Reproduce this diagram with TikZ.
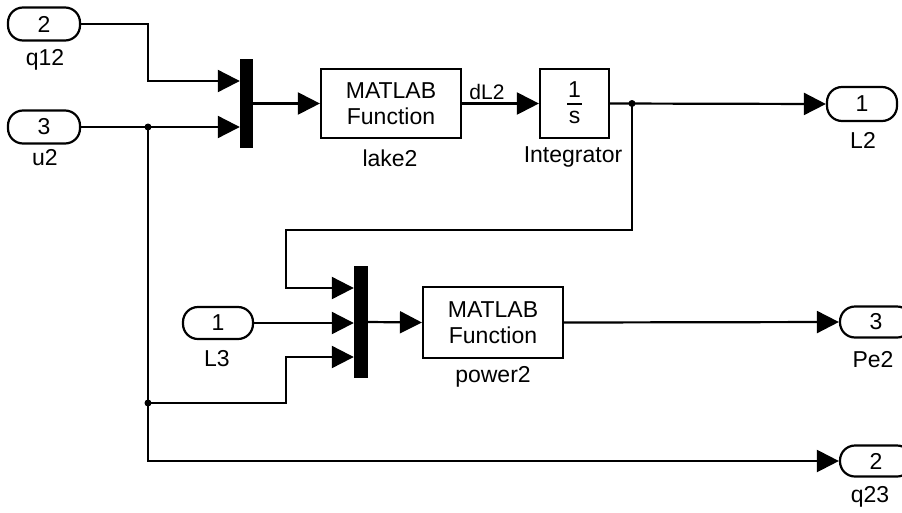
\documentclass[tikz,border=0pt]{standalone}
\usepackage{fontspec}
\setmainfont{Liberation Sans}
\usetikzlibrary{arrows.meta}
\begin{document}
\begin{tikzpicture}[x=1pt,y=-1pt,
  wire/.style={line width=2.2pt},
  arr/.style={wire,-{Triangle[length=22pt,width=22pt]}},
  port/.style={draw,line width=2.2pt,rounded corners=15pt,minimum width=72pt,minimum height=33pt,inner sep=0pt,font=\fontsize{23}{25}\selectfont},
  blockbox/.style={draw,line width=2.2pt,inner sep=0pt,align=center,font=\fontsize{23}{26}\selectfont},
  muxbar/.style={fill=black,draw=none,inner sep=0pt},
  lbl/.style={font=\fontsize{23}{25}\selectfont,inner sep=0pt},
  junction/.style={circle,fill=black,inner sep=0pt,minimum size=7pt}]
\clip (0,0) rectangle (902,512);
\fill[white] (0,0) rectangle (902,512);
% inports
\node[port] (p2) at (44,24) {2};
\node[lbl] (p2l) at (45,60) {q12};
\node[port] (p3) at (44,127) {3};
\node[lbl] (p3l) at (45,158) {u2};
\node[port,minimum width=70pt,minimum height=32pt] (l3) at (218,323) {1};
\node[lbl] (l3l) at (217,359) {L3};
% mux bars
\node[muxbar,minimum width=13pt,minimum height=89pt] (mux1) at (246.5,103.5) {};
\node[muxbar,minimum width=14pt,minimum height=112pt] (mux2) at (361,322) {};
% blocks
\node[blockbox,minimum width=140pt,minimum height=69pt] (lake) at (391,103.5) {MATLAB\\Function};
\node[lbl] (lakel) at (390,158) {lake2};
\node[blockbox,minimum width=69pt,minimum height=69pt] (integ) at (574.5,103.5) {};
\node[lbl] (one) at (574.5,90) {1};
\draw[line width=1.6pt] (567,104) -- (582,104);
\node[lbl] (ess) at (574.5,117) {s};
\node[lbl] (integl) at (573,157) {Integrator};
\node[blockbox,minimum width=140pt,minimum height=71pt] (pow) at (493,322.5) {MATLAB\\Function};
\node[lbl] (powl) at (493,377) {power2};
% outports
\node[port,minimum width=70pt,minimum height=34pt] (l2) at (862,104) {1};
\node[lbl] (l2l) at (863,140) {L2};
\node[port,minimum height=31pt] (pe2) at (876,322) {3};
\node[lbl] (pe2l) at (873,360) {Pe2};
\node[port,minimum height=31pt] (q23) at (876,461) {2};
\node[lbl] (q23l) at (870,497) {q23};
% junction coordinates
\coordinate (j1) at (148,127);
\coordinate (j2) at (148,403);
\coordinate (j3) at (632,103.5);
% wires
\draw[arr] (p2.east) -| (148,81) -- (mux1.west |- 0,81);
\draw[arr] (p3.east) -- (mux1.west |- 0,127);
\draw[arr] (mux1.east) -- (lake.west);
\draw[arr] (lake.east) -- (integ.west);
\node[lbl,font=\fontsize{21}{23}\selectfont] (dl2) at (487,92) {dL2};
\draw[arr] (integ.east) -- (l2.west);
\draw[arr] (j3) -- (632,230) -- (286,230) -- (286,288) -- (mux2.west |- 0,288);
\draw[arr] (l3.east) -- (mux2.west |- 0,323);
\draw[arr] (j2) -- (286,403) -- (286,357) -- (mux2.west |- 0,357);
\draw[arr] (j1) -- (148,461) -- (q23.west);
\draw[arr] (mux2.east) -- (pow.west);
\draw[arr] (pow.east) -- (pe2.west);
\node[junction] at (j1) {};
\node[junction] at (j2) {};
\node[junction] at (j3) {};
\end{tikzpicture}
\end{document}
